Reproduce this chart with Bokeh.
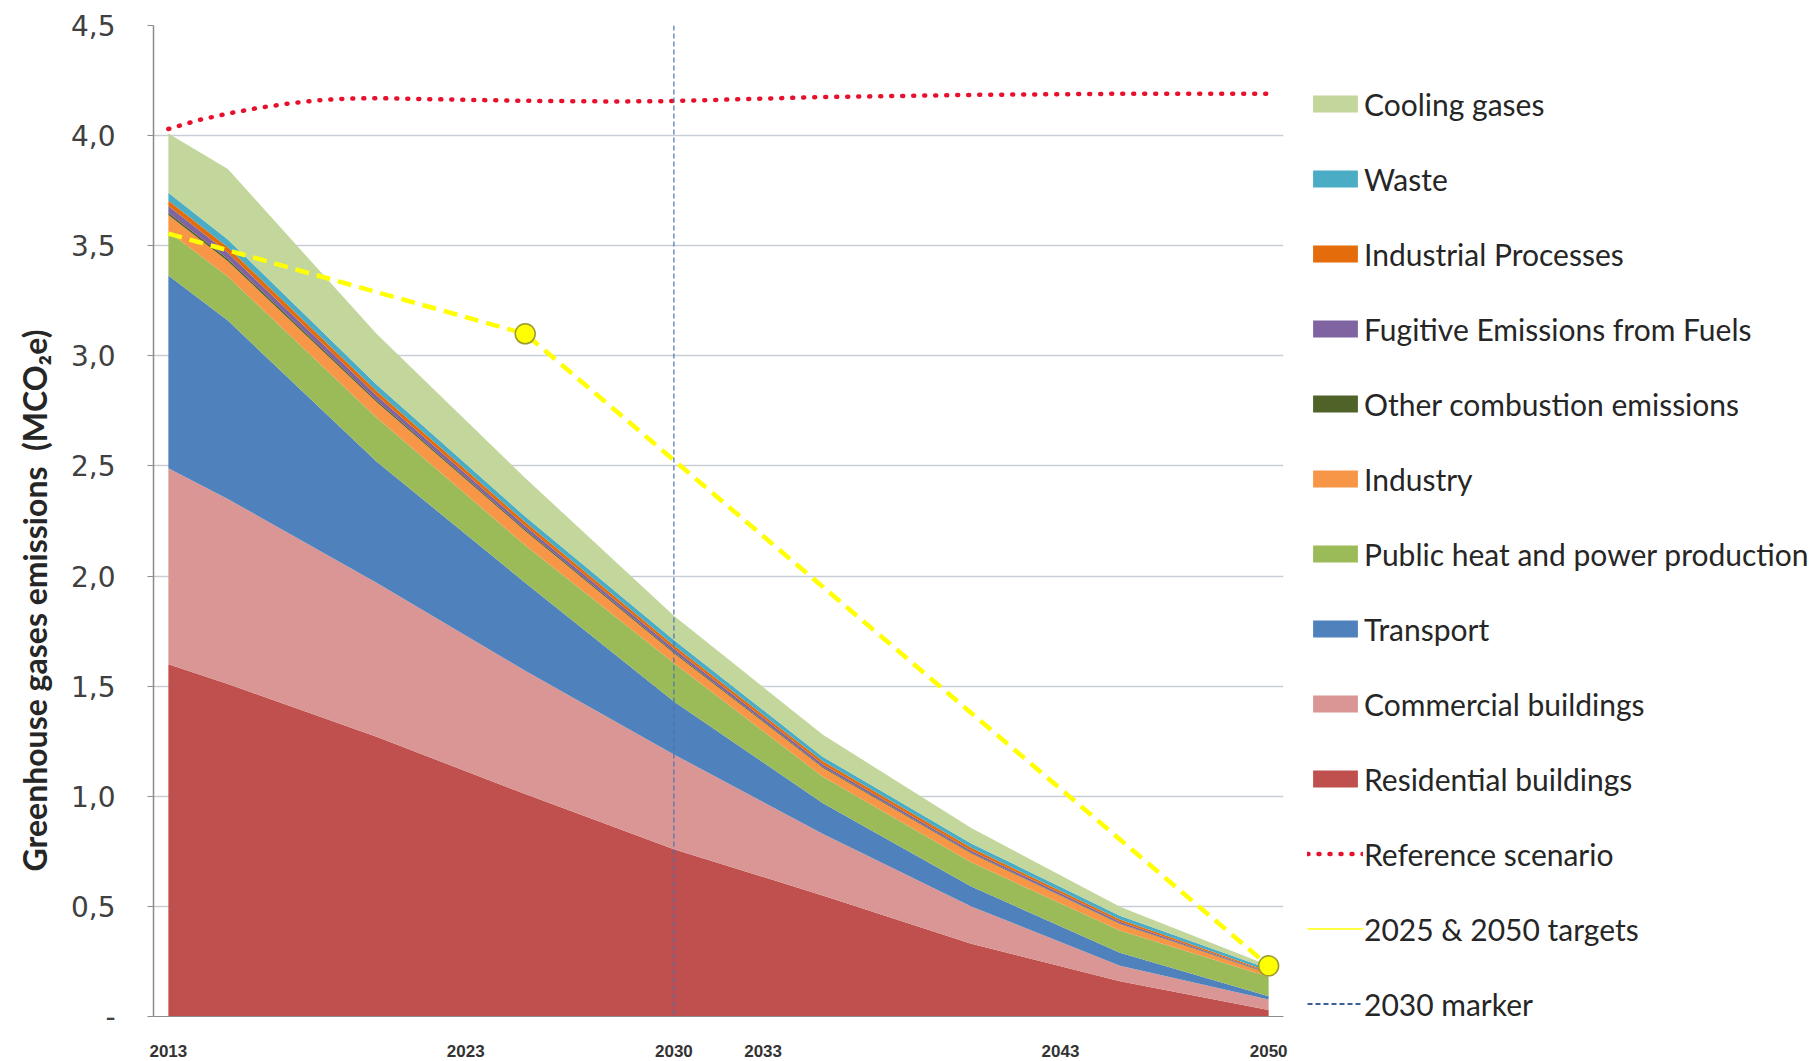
import math
from bokeh.plotting import figure
from bokeh.models import (Legend, LegendItem, FixedTicker, Range1d, ColumnDataSource,
                          Span, Title)
from bokeh.embed import file_html
from bokeh.resources import INLINE

# ---------------- data ----------------
years = [2013, 2015, 2020, 2025, 2030, 2035, 2040, 2045, 2050]
residential = [1.60, 1.51, 1.27, 1.01, 0.76, 0.55, 0.33, 0.16, 0.03]
commercial = [0.89, 0.84, 0.70, 0.56, 0.43, 0.28, 0.17, 0.07, 0.047]
transport = [0.875, 0.81, 0.55, 0.40, 0.24, 0.14, 0.09, 0.06, 0.015]
public_heat = [0.20, 0.20, 0.20, 0.17, 0.175, 0.12, 0.11, 0.10, 0.088]
industry = [0.075, 0.07, 0.07, 0.065, 0.045, 0.04, 0.04, 0.03, 0.015]
other_combustion = [0.01, 0.01, 0.008, 0.006, 0.005, 0.004, 0.003, 0.002, 0.002]
fugitive = [0.03, 0.028, 0.022, 0.016, 0.015, 0.012, 0.01, 0.008, 0.004]
industrial_processes = [0.025, 0.025, 0.02, 0.018, 0.015, 0.014, 0.013, 0.01, 0.004]
waste = [0.035, 0.035, 0.03, 0.025, 0.025, 0.02, 0.02, 0.018, 0.012]
cooling = [0.27, 0.32, 0.23, 0.175, 0.11, 0.10, 0.07, 0.04, 0.015]

ref_years = [2013, 2014, 2015, 2016, 2017, 2018, 2019, 2020, 2022, 2025, 2028,
             2030, 2033, 2035, 2040, 2045, 2050]
reference_scenario = [4.03, 4.07, 4.10, 4.125, 4.145, 4.16, 4.168, 4.17, 4.165,
                      4.158, 4.155, 4.157, 4.168, 4.175, 4.185, 4.19, 4.19]

target_years = [2013, 2025, 2050]
targets = [3.555, 3.10, 0.23]

marker_year = 2030

series_names = ["Residential buildings", "Commercial buildings", "Transport",
                "Public heat and power production", "Industry",
                "Other combustion emissions", "Fugitive Emissions from Fuels",
                "Industrial Processes", "Waste", "Cooling gases"]
series_values = [residential, commercial, transport, public_heat, industry,
                 other_combustion, fugitive, industrial_processes, waste, cooling]
series_colors = ["#C0504D", "#D99694", "#4F81BD", "#9BBB59", "#F79646",
                 "#4F6228", "#8064A2", "#E46C0A", "#4BACC6", "#C3D69B"]

x_ticks = [2013, 2023, 2030, 2033, 2043, 2050]
x_tick_labels = ["2013", "2023", "2030", "2033", "2043", "2050"]
y_ticks = [0, 0.5, 1, 1.5, 2, 2.5, 3, 3.5, 4, 4.5]
y_tick_labels = ["-", "0,5", "1,0", "1,5", "2,0", "2,5", "3,0", "3,5", "4,0", "4,5"]
y_title = "Greenhouse gases emissions\u00a0 (MCO\u2082e)"

# ---------------- figure ----------------
p = figure(frame_width=1130, frame_height=991, output_backend="svg",
           toolbar_location=None,
           x_range=Range1d(2012.5, 2050.5), y_range=Range1d(0, 4.5),
           min_border_left=153, min_border_right=5, min_border_top=25,
           min_border_bottom=42)
p.outline_line_color = None
p.background_fill_color = "white"

keys = ["s%d" % i for i in range(len(series_values))]
data = {"year": years}
for k, v in zip(keys, series_values):
    data[k] = v
src = ColumnDataSource(data)
area_renderers = p.varea_stack(stackers=keys, x="year", color=series_colors,
                               source=src)

# reference scenario
ref_r = p.line(ref_years, reference_scenario, line_color="#E8112D", line_width=4.5,
               line_dash="1 10", line_cap="round")

# targets
tgt_line = p.line(target_years, targets, line_color="#FFFF00", line_width=4.5,
                  line_dash="14 8")
p.scatter(target_years[1:], targets[1:], size=20, marker="circle",
          fill_color="#FFFF00", line_color="#9A9A2E", line_width=1.5)

# 2030 marker
span = Span(location=marker_year, dimension="height", line_color="#4A72AC",
            line_width=1.2, line_dash="5 3")
p.add_layout(span)

# legend proxies
nan = float("nan")
tgt_proxy = p.line([nan], [nan], line_color="#FFFF00", line_width=1.5)
mark_proxy = p.line([nan], [nan], line_color="#3E5F96", line_width=1.8,
                    line_dash="5 3")

# axes
p.xgrid.visible = False
p.ygrid.ticker = FixedTicker(ticks=y_ticks)
p.ygrid.grid_line_color = "#C9CDD8"
p.ygrid.grid_line_width = 1.6

p.yaxis.ticker = FixedTicker(ticks=y_ticks)
p.yaxis.major_label_overrides = {t: l for t, l in zip(y_ticks, y_tick_labels)}
p.yaxis.axis_line_color = "#8C8C8C"
p.yaxis.axis_line_width = 1.5
p.yaxis.major_tick_line_color = "#8C8C8C"
p.yaxis.major_tick_out = 6
p.yaxis.major_tick_in = 0
p.yaxis.minor_tick_line_color = None
p.yaxis.major_label_standoff = 32
p.yaxis.major_label_text_font = "DejaVu Sans"
p.yaxis.major_label_text_font_size = "28px"
p.yaxis.major_label_text_color = "#404040"

title = Title(text=y_title, align="left", offset=145, standoff=24,
              vertical_align="top",
              text_font="Lato", text_font_style="bold", text_font_size="32px",
              text_color="#262626")
p.add_layout(title, "left")

p.xaxis.ticker = FixedTicker(ticks=x_ticks)
p.xaxis.major_label_overrides = {t: l for t, l in zip(x_ticks, x_tick_labels)}
p.xaxis.axis_line_color = "#8C8C8C"
p.xaxis.major_tick_line_color = None
p.xaxis.minor_tick_line_color = None
p.xaxis.major_label_standoff = 22
p.xaxis.major_label_text_font = "Liberation Sans"
p.xaxis.major_label_text_font_style = "bold"
p.xaxis.major_label_text_font_size = "17px"
p.xaxis.major_label_text_color = "#333333"

# legend
items = []
for name, r in reversed(list(zip(series_names, area_renderers))):
    items.append(LegendItem(label=name, renderers=[r]))
items.append(LegendItem(label="Reference scenario", renderers=[ref_r]))
items.append(LegendItem(label="2025 & 2050 targets", renderers=[tgt_proxy]))
items.append(LegendItem(label="2030 marker", renderers=[mark_proxy]))

legend = Legend(items=items, location=(24, -6), padding=0, margin=0,
                spacing=38, label_height=37, glyph_height=21, glyph_width=56,
                label_standoff=1, label_text_font="Lato",
                label_text_font_size="30px", label_text_color="#262626",
                border_line_color=None, background_fill_alpha=0)
p.add_layout(legend, "right")

open("out.html", "w").write(file_html(p, INLINE))
